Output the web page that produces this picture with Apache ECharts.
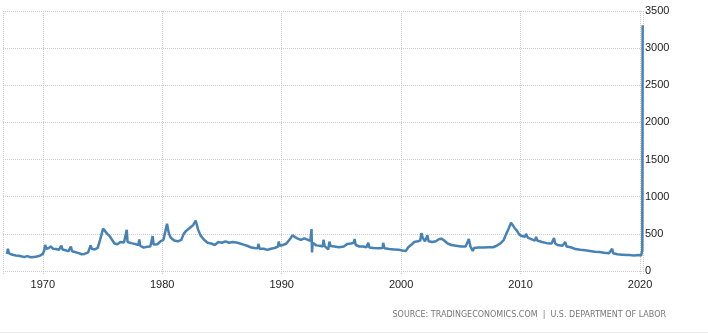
<!DOCTYPE html>
<html lang="en">
<head>
<meta charset="UTF-8">
<title>US Initial Jobless Claims</title>
<script src="https://cdn.jsdelivr.net/npm/echarts@6/dist/echarts.min.js"></script>
<style>
body{margin:0;padding:0;background:#fff;}
#main{width:708px;height:336px;}
</style>
</head>
<body>
<div id="main"></div>
<script type="text/javascript">
// weekly claims, thousands
var years = [
  1967.00,1967.08,1967.17,1967.35,1967.55,1967.75,1968.00,1968.25,1968.50,1968.70,
  1969.00,1969.25,1969.50,1969.75,1970.00,1970.12,1970.20,1970.30,1970.50,1970.67,
  1970.85,1971.10,1971.35,1971.55,1971.65,1971.90,1972.15,1972.35,1972.45,1972.70,
  1973.00,1973.25,1973.50,1973.80,1974.00,1974.10,1974.35,1974.60,1974.80,1974.95,
  1975.05,1975.20,1975.40,1975.60,1975.80,1976.00,1976.25,1976.50,1976.80,1976.95,
  1977.03,1977.10,1977.40,1977.70,1978.00,1978.08,1978.15,1978.45,1978.70,1979.00,
  1979.20,1979.28,1979.60,1979.85,1980.10,1980.30,1980.40,1980.55,1980.70,1981.00,
  1981.30,1981.60,1981.80,1982.00,1982.30,1982.60,1982.80,1983.00,1983.20,1983.50,
  1983.80,1984.10,1984.40,1984.70,1985.00,1985.30,1985.60,1985.90,1986.20,1986.50,
  1986.80,1987.10,1987.40,1987.70,1988.00,1988.05,1988.15,1988.50,1988.80,1989.10,
  1989.40,1989.70,1989.75,1989.85,1990.10,1990.40,1990.70,1990.90,1991.05,1991.30,
  1991.60,1991.90,1992.20,1992.40,1992.50,1992.54,1992.60,1992.90,1993.20,1993.45,
  1993.50,1993.60,1993.90,1994.00,1994.10,1994.40,1994.80,1995.20,1995.50,1995.80,
  1996.05,1996.10,1996.20,1996.50,1996.80,1997.10,1997.25,1997.35,1997.70,1998.10,
  1998.45,1998.50,1998.60,1999.00,1999.40,1999.80,2000.10,2000.40,2000.60,2000.90,
  2001.10,2001.40,2001.60,2001.70,2001.80,2002.00,2002.20,2002.30,2002.60,2002.90,
  2003.20,2003.40,2003.60,2003.90,2004.20,2004.60,2005.00,2005.40,2005.67,2005.80,
  2006.00,2006.10,2006.50,2006.90,2007.30,2007.70,2008.00,2008.30,2008.60,2008.80,
  2009.00,2009.20,2009.30,2009.50,2009.70,2009.90,2010.10,2010.40,2010.45,2010.60,
  2010.90,2011.20,2011.30,2011.40,2011.80,2012.20,2012.60,2012.80,2012.90,2013.10,
  2013.50,2013.75,2013.85,2014.20,2014.60,2015.00,2015.40,2015.80,2016.20,2016.60,
  2017.00,2017.40,2017.67,2017.75,2018.10,2018.50,2018.90,2019.00,2019.10,2019.50,
  2019.90,2020.00,2020.10,2020.19,2020.22
];
var claims = [
  230,300,240,225,215,210,205,195,190,200,
  185,190,195,205,230,275,350,300,310,330,
  300,295,285,340,290,280,265,330,265,255,
  240,225,230,250,345,300,290,310,420,510,
  570,540,500,470,420,370,360,390,385,395,
  555,390,375,365,350,425,340,315,325,330,
  470,355,360,400,420,560,635,510,450,410,
  400,420,500,540,580,620,680,560,480,420,
  380,370,350,390,380,400,380,390,385,370,
  355,340,320,310,305,365,300,300,285,300,
  310,330,395,340,350,370,430,480,500,440,
  420,440,420,405,565,250,380,345,340,330,
  420,335,290,395,335,330,320,330,365,370,
  380,430,350,330,330,320,380,315,310,305,
  310,380,305,295,290,285,275,270,320,360,
  390,400,410,510,450,400,480,400,390,400,
  430,435,410,370,350,340,330,330,430,330,
  270,310,315,315,320,320,340,370,420,500,
  570,650,630,580,540,490,470,460,500,450,
  430,410,460,410,390,375,370,445,370,350,
  340,390,330,320,295,285,280,270,260,255,
  245,240,300,240,225,220,215,240,215,210,
  215,230,210,282,3307
];
var yTicks = [0, 500, 1000, 1500, 2000, 2500, 3000, 3500];
var sourceText = 'SOURCE: TRADINGECONOMICS.COM  |  U.S. DEPARTMENT OF LABOR';

var points = [];
for (var i = 0; i < years.length; i++) {
    points.push([years[i], claims[i]]);
}

var myChart = echarts.init(document.getElementById('main'));
var option = {
    animation: false,
    backgroundColor: '#fff',
    grid: {left: 0, right: 65, top: 11, bottom: 65},
    xAxis: {
        type: 'value',
        min: 1966.67,
        max: 2020.25,
        axisLine: {show: false},
        axisTick: {show: true, length: 4, lineStyle: {color: '#ccc', type: 'dotted'}},
        axisLabel: {
            margin: 8,
            color: '#222',
            fontFamily: 'Liberation Sans',
            fontSize: 11,
            formatter: function (v) {
                return (Math.abs(v % 10) < 0.001) ? String(Math.round(v)) : '';
            }
        },
        splitLine: {show: true, lineStyle: {color: '#ccc', type: 'dotted'}}
    },
    yAxis: {
        type: 'value',
        position: 'right',
        min: yTicks[0],
        max: yTicks[yTicks.length - 1],
        interval: 500,
        axisLine: {show: false},
        axisTick: {show: false},
        axisLabel: {
            margin: 2,
            color: '#222',
            fontFamily: 'Liberation Sans',
            fontSize: 11,
            formatter: function (v) { return String(v); }
        },
        splitLine: {show: true, lineStyle: {color: '#ccc', type: 'dotted'}}
    },
    series: [{
        type: 'line',
        data: points,
        symbol: 'none',
        lineStyle: {color: '#4682b4', width: 2.5},
        itemStyle: {color: '#4682b4'}
    }],
    graphic: [
        {
            type: 'text',
            right: 42,
            top: 311,
            style: {
                text: sourceText,
                fill: '#777',
                font: '8px "DejaVu Sans"'
            }
        },
        {
            type: 'line',
            shape: {x1: 0, y1: 332.5, x2: 708, y2: 332.5},
            style: {stroke: '#eee', lineWidth: 1}
        }
    ]
};
myChart.setOption(option);
</script>
</body>
</html>
